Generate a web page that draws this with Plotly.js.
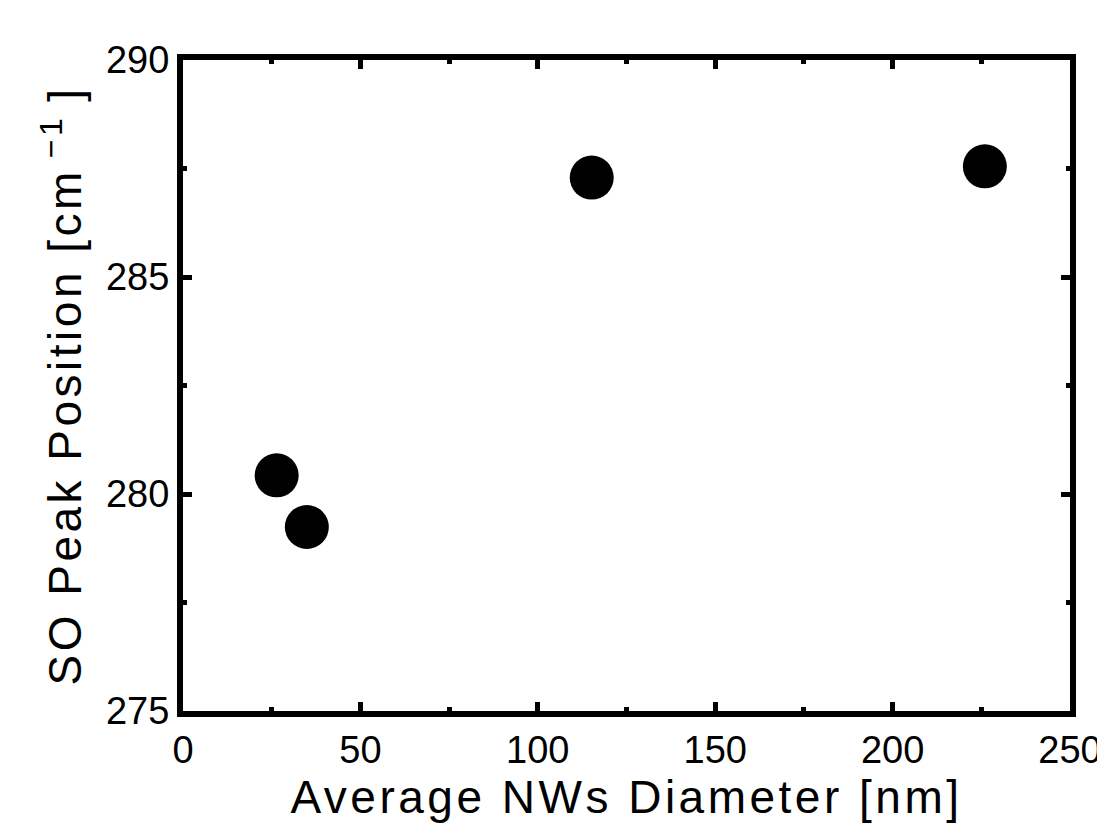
<!DOCTYPE html>
<html>
<head>
<meta charset="utf-8">
<script src="https://cdn.plot.ly/plotly-3.0.1.min.js"></script>
<style>
html,body{margin:0;padding:0;background:#fff;}
#chart{width:1097px;height:828px;}
.xtitle, .ytitle { letter-spacing: 3.5px; }
</style>
</head>
<body>
<div id="chart"></div>
<script>
const diameters = [26.4, 34.9, 115.2, 226.0];
const peakPositions = [280.43, 279.24, 287.29, 287.55];
const xTitle = 'Average NWs Diameter [nm]';
const yTitle = 'SO Peak Position [cm<sup>\u2009\u22121</sup>\u2009]';
const xTickVals = [0, 50, 100, 150, 200, 250];
const yTickVals = [275, 280, 285, 290];

const font = '"Liberation Sans", Arial, sans-serif';

const trace = {
  x: diameters,
  y: peakPositions,
  type: 'scatter',
  mode: 'markers',
  marker: {size: 44, color: '#000', line: {width: 0}},
  cliponaxis: false,
  hoverinfo: 'none'
};

const axisCommon = {
  showgrid: false,
  zeroline: false,
  showline: true,
  linecolor: '#000',
  linewidth: 6,
  mirror: 'allticks',
  ticks: 'inside',
  ticklen: 9,
  tickwidth: 5,
  tickcolor: '#000',
  ticklabeloverflow: 'allow',
  tickfont: {family: font, size: 38, color: '#000'}
};

const layout = {
  width: 1097,
  height: 828,
  margin: {l: 183, r: 27, t: 60, b: 117},
  paper_bgcolor: '#fff',
  plot_bgcolor: '#fff',
  showlegend: false,
  xaxis: Object.assign({}, axisCommon, {
    range: [0, 250],
    tickvals: xTickVals,
    ticktext: xTickVals.map(String),
    minor: {dtick: 25, tick0: 0, ticks: 'inside', ticklen: 4, tickwidth: 5, tickcolor: '#000'},
    title: {text: xTitle, font: {family: font, size: 46, color: '#000'}, standoff: 3}
  }),
  yaxis: Object.assign({}, axisCommon, {
    range: [275, 290],
    tickvals: yTickVals,
    ticktext: yTickVals.map(String),
    minor: {dtick: 2.5, tick0: 275, ticks: 'inside', ticklen: 4, tickwidth: 5, tickcolor: '#000'},
    title: {text: yTitle, font: {family: font, size: 46, color: '#000'}, standoff: 12}
  })
};

Plotly.newPlot('chart', [trace], layout, {staticPlot: true, displayModeBar: false});
</script>
</body>
</html>
